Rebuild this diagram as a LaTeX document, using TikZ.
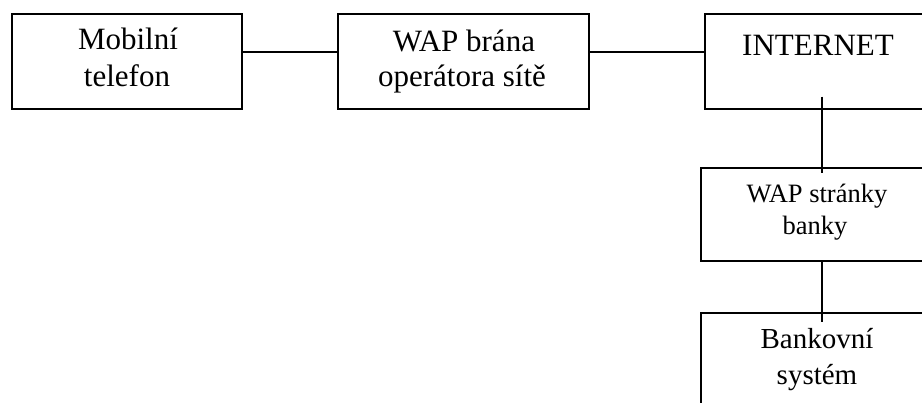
\documentclass[tikz,border=0pt]{standalone}
\usepackage{fontspec}
\setmainfont{Liberation Serif}
\begin{document}
\begin{tikzpicture}[x=1pt,y=-1pt,
  box/.style={draw=black,line width=1.6pt,rectangle,inner sep=0pt},
  link/.style={draw=black,line width=1.6pt},
  lbl/.style={anchor=base,inner sep=0pt,text=black},
  big/.style={font=\fontsize{31}{35}\selectfont},
  mid/.style={font=\fontsize{29}{33}\selectfont},
  small/.style={font=\fontsize{26.5}{30}\selectfont}]
  \fill[white] (0,0) rectangle (922,403);
  \useasboundingbox (0,0) rectangle (922,403);
  \clip (0,0) rectangle (922,403);

  % boxes
  \node[box,minimum width=230pt,minimum height=95pt,anchor=north west] (m) at (11,13) {};
  \node[box,minimum width=251pt,minimum height=95pt,anchor=north west] (w) at (337,13) {};
  \node[box,minimum width=236pt,minimum height=95pt,anchor=north west] (i) at (704,13) {};
  \node[box,minimum width=240pt,minimum height=93pt,anchor=north west] (s) at (700,167) {};
  \node[box,minimum width=240pt,minimum height=110pt,anchor=north west] (b) at (700,312) {};

  % labels
  \node[lbl,big] (m1) at (128,50) {Mobilní};
  \node[lbl,big] (m2) at (127,87) {telefon};
  \node[lbl,big] (w1) at (464,52) {WAP brána};
  \node[lbl,big] (w2) at (462,87) {operátora sítě};
  \node[lbl,big] (i1) at (818,56) {INTERNET};
  \node[lbl,small] (s1) at (817,203) {WAP stránky};
  \node[lbl,small] (s2) at (815,235) {banky};
  \node[lbl,mid] (b1) at (817,349) {Bankovní};
  \node[lbl,mid] (b2) at (817,385) {systém};

  % connectors
  \draw[link] ([yshift=9.5pt]m.east) -- ([yshift=9.5pt]w.west);
  \draw[link] ([yshift=9.5pt]w.east) -- ([yshift=9.5pt]i.west);
  \draw[link] ([yshift=13pt,xshift=-1pt]i.south) -- ([yshift=-6pt,xshift=-1pt]i.south |- s.north);
  \draw[link] ([xshift=1pt]s.south) -- ([yshift=-10pt,xshift=1pt]s.south |- b.north);
\end{tikzpicture}
\end{document}
